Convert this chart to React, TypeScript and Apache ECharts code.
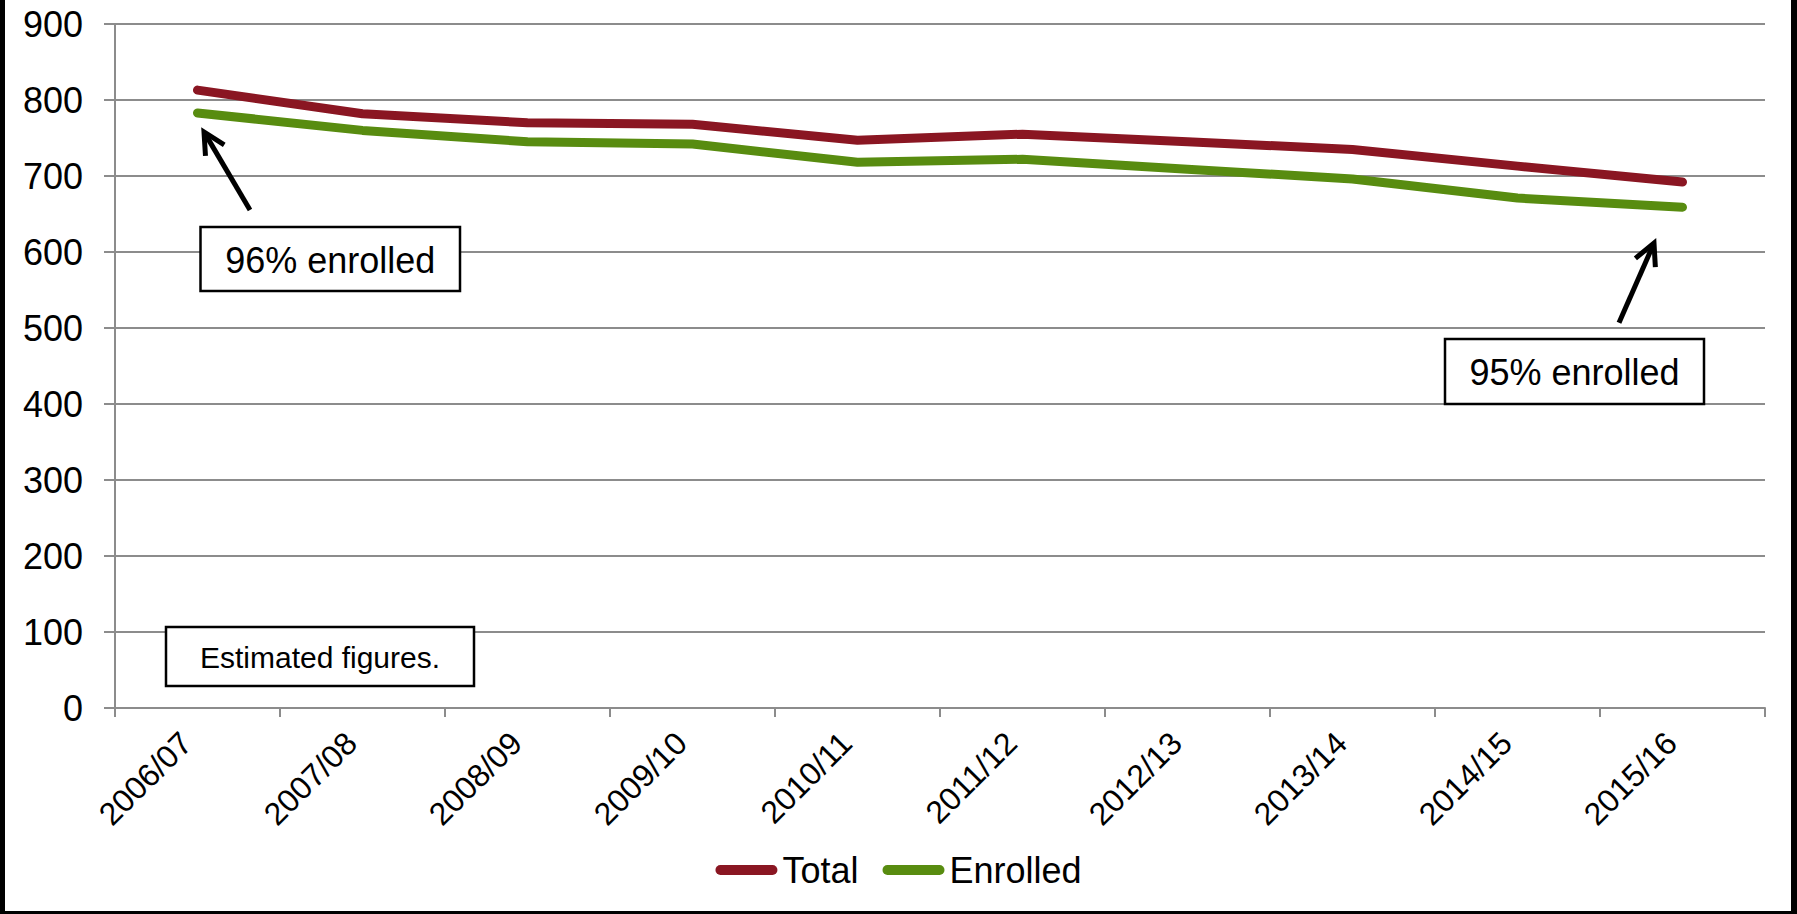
import React, { useEffect, useRef } from "react";
import * as echarts from "echarts";

// School years on the category axis
const categories = [
  "2006/07",
  "2007/08",
  "2008/09",
  "2009/10",
  "2010/11",
  "2011/12",
  "2012/13",
  "2013/14",
  "2014/15",
  "2015/16",
];

// Total pupils and the number of them enrolled
const totalValues = [813, 782, 770, 768, 747, 755, 745, 735, 713, 692];
const enrolledValues = [783, 760, 745, 742, 718, 722, 709, 696, 671, 659];

// Value-axis ticks
const yMin = 0;
const yMax = 900;
const yStep = 100;

const FONT = '"Liberation Sans", Arial, Helvetica, sans-serif';
const RED = "#8A1622";
const GREEN = "#588C10";
const GRID_GRAY = "#8C8C8C";

// Callout arrows pointing at the first and last Enrolled points
const arrowCallouts = [
  { index: 0, tip: [6.5, 19], tail: [52.5, 97] },
  { index: 9, tip: [-28.5, 36], tail: [-63.5, 115.5] },
];

// Boxed notes
const noteBoxes = [
  { text: "96% enrolled", x: 200.5, y: 227, w: 259.5, h: 64, size: 36 },
  { text: "95% enrolled", x: 1445, y: 339, w: 259, h: 65, size: 36 },
  { text: "Estimated figures.", x: 166, y: 627, w: 308, h: 59, size: 30 },
];

const W = 1797;
const H = 914;

function arrowGraphics(tip: number[], tail: number[]) {
  const dx = tip[0] - tail[0];
  const dy = tip[1] - tail[1];
  const len = Math.hypot(dx, dy);
  const bx = -dx / len;
  const by = -dy / len;
  const arm = 24;
  const ang = (27 * Math.PI) / 180;
  const rot = (a: number) => [
    tip[0] + arm * (bx * Math.cos(a) - by * Math.sin(a)),
    tip[1] + arm * (bx * Math.sin(a) + by * Math.cos(a)),
  ];
  const a1 = rot(ang);
  const a2 = rot(-ang);
  const shaftEnd = [tip[0] + bx * 2, tip[1] + by * 2];
  return [
    {
      type: "line",
      z: 100,
      shape: { x1: tail[0], y1: tail[1], x2: shaftEnd[0], y2: shaftEnd[1] },
      style: { stroke: "#000", lineWidth: 5 },
    },
    {
      type: "polyline",
      z: 100,
      shape: { points: [a1, tip, a2] },
      style: { stroke: "#000", lineWidth: 5, fill: null, lineJoin: "miter" },
    },
  ];
}

export default function App() {
  const ref = useRef<HTMLDivElement>(null);

  useEffect(() => {
    document.body.style.margin = "0";
    const chart = echarts.init(ref.current!, null, { renderer: "svg" });

    chart.setOption({
      animation: false,
      backgroundColor: "#fff",
      textStyle: { fontFamily: FONT },
      grid: { left: 115, right: 32, top: 24, bottom: 206 },
      legend: {
        data: ["Total", "Enrolled"],
        left: "center",
        top: 852,
        padding: 0,
        itemGap: 24,
        itemWidth: 62,
        itemHeight: 11,
        icon: "path://M5 0H57A5 5 0 0 1 57 10H5A5 5 0 0 1 5 0Z",
        textStyle: { fontFamily: FONT, fontSize: 36, color: "#000", lineHeight: 36 },
      },
      xAxis: {
        type: "category",
        data: categories,
        boundaryGap: true,
        axisLine: { lineStyle: { color: GRID_GRAY, width: 2 } },
        axisTick: { show: true, length: 9, lineStyle: { color: GRID_GRAY, width: 2 } },
        axisLabel: {
          interval: 0,
          rotate: 45,
          margin: 41,
          align: "right",
          verticalAlign: "bottom",
          fontFamily: FONT,
          fontSize: 32,
          color: "#000",
        },
        splitLine: { show: false },
      },
      yAxis: {
        type: "value",
        min: yMin,
        max: yMax,
        interval: yStep,
        axisLine: { show: true, lineStyle: { color: GRID_GRAY, width: 2 } },
        axisTick: { show: true, length: 11, lineStyle: { color: GRID_GRAY, width: 2 } },
        axisLabel: { margin: 32, fontFamily: FONT, fontSize: 36, color: "#000" },
        splitLine: { show: true, lineStyle: { color: GRID_GRAY, width: 2 } },
      },
      series: [
        {
          name: "Total",
          type: "line",
          data: totalValues,
          symbol: "none",
          color: RED,
          lineStyle: { color: RED, width: 9, cap: "round", join: "round" },
          z: 3,
        },
        {
          name: "Enrolled",
          type: "line",
          data: enrolledValues,
          symbol: "none",
          color: GREEN,
          lineStyle: { color: GREEN, width: 9, cap: "round", join: "round" },
          z: 2,
        },
      ],
    });

    const graphics: any[] = [];

    arrowCallouts.forEach((c) => {
      const p = chart.convertToPixel({ gridIndex: 0 }, [c.index, enrolledValues[c.index]]) as number[];
      const tip = [p[0] + c.tip[0], p[1] + c.tip[1]];
      const tail = [p[0] + c.tail[0], p[1] + c.tail[1]];
      graphics.push(...arrowGraphics(tip, tail));
    });

    noteBoxes.forEach((b) => {
      graphics.push({
        type: "rect",
        z: 100,
        shape: { x: b.x, y: b.y, width: b.w, height: b.h },
        style: { fill: "#fff", stroke: "#000", lineWidth: 2.5 },
      });
      graphics.push({
        type: "text",
        z: 101,
        x: b.x + b.w / 2,
        y: b.y + b.h / 2 + 1,
        style: {
          text: b.text,
          fontFamily: FONT,
          fontSize: b.size,
          fill: "#000",
          align: "center",
          verticalAlign: "middle",
        },
      });
    });

    // Outer frame: left, right and bottom edges
    graphics.push(
      { type: "rect", z: 200, shape: { x: 0, y: 0, width: 5, height: H }, style: { fill: "#000" } },
      { type: "rect", z: 200, shape: { x: W - 6, y: 0, width: 6, height: H }, style: { fill: "#000" } },
      { type: "rect", z: 200, shape: { x: 0, y: H - 3, width: W, height: 3 }, style: { fill: "#000" } }
    );

    chart.setOption({ graphic: graphics });

    return () => chart.dispose();
  }, []);

  return (
    <div style={{ position: "fixed", left: 0, top: 0, width: W, height: H }}>
      <div ref={ref} style={{ width: W, height: H }} />
    </div>
  );
}
